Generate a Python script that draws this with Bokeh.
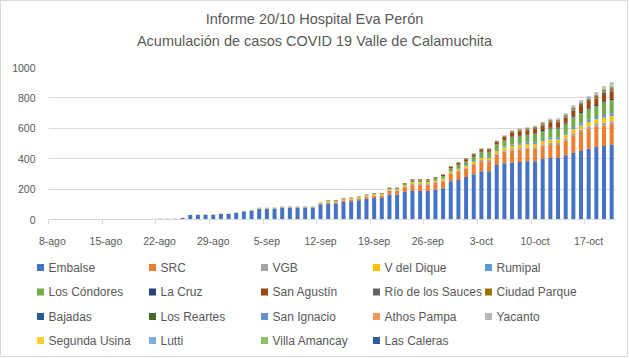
import pandas as pd
from bokeh.plotting import figure
from bokeh.layouts import column
from bokeh.models import Range1d, FixedTicker, ColumnDataSource
from bokeh.core.properties import value
from bokeh.embed import file_html
from bokeh.resources import INLINE

# ---------------- data ----------------
dates = pd.date_range("2020-08-08", "2020-10-20", freq="D")   # 74 days
tick_days = [0, 7, 14, 21, 28, 35, 42, 49, 56, 63, 70]
tick_labels = ["8-ago", "15-ago", "22-ago", "29-ago", "5-sep", "12-sep",
               "19-sep", "26-sep", "3-oct", "10-oct", "17-oct"]
y_ticks = [0, 200, 400, 600, 800, 1000]
title_lines = ["Informe 20/10 Hospital Eva Perón",
               "Acumulación de casos COVID 19 Valle de Calamuchita"]

series_names = ["Embalse", "SRC", "VGB", "V del Dique", "Rumipal",
                "Los Cóndores", "La Cruz", "San Agustín", "Río de los Sauces", "Ciudad Parque",
                "Bajadas", "Los Reartes", "San Ignacio", "Athos Pampa", "Yacanto",
                "Segunda Usina", "Lutti", "Villa Amancay", "Las Caleras"]
colors = ["#4472C4", "#ED7D31", "#A5A5A5", "#FFC000", "#5B9BD5",
          "#70AD47", "#264478", "#9E480E", "#636363", "#997300",
          "#255E91", "#43682B", "#698ED0", "#F1975A", "#B7B7B7",
          "#FFCD33", "#7CAFDD", "#8CC168", "#335AA1"]

embalse = [0] * 11 + [4, 4, 4, 5, 5, 5,
           10, 29, 31, 31, 31, 37, 37, 42, 53, 57, 71, 71, 73, 79, 79, 79, 79, 79,
           100, 106, 105, 115, 120, 127, 137, 141, 141, 165, 165, 181, 187, 187, 187,
           198, 206, 251, 260, 279, 298, 318, 318, 358, 370, 374, 379, 383, 383,
           398, 404, 404, 423, 437, 450, 465, 477, 483, 491]
src = [0] * 35 + [3, 6, 8, 9, 10, 10, 12, 15, 15, 22, 22, 33, 42, 42, 42, 44, 46, 50,
                  53, 57, 60, 66, 66, 70, 77, 80, 80, 80, 80, 84, 86, 86, 96, 117,
                  125, 132, 136, 136, 137]
vgb = [0] * 22 + [1, 1, 1, 1, 1, 1, 1, 1, 1, 1, 1, 1, 1, 1,
                  2, 2, 2, 2, 2, 2, 2, 2, 3, 3, 3, 4, 4, 4, 4,
                  5, 5, 6, 6, 7, 7, 7, 8, 9, 10, 11, 11, 12, 12, 13, 13, 14, 14,
                  15, 15, 16, 18, 18]
v_dique = [0] * 17 + [1, 2, 2, 2, 2, 2, 2, 2, 2, 2, 3, 3, 3, 3, 3, 3, 3, 3, 4,
                      5, 5, 5, 5, 5, 6, 6, 6, 7, 7, 7, 8, 8, 8, 8,
                      9, 9, 11, 12, 13, 14, 14, 15, 17, 20, 21, 21, 22, 23, 24, 24,
                      25, 27, 28, 29, 30, 34, 35]
rumipal = [0] * 26 + [1, 1, 1, 1, 1, 1, 1, 1, 1, 1, 1, 1, 1, 1, 1, 1,
                      2, 2, 2, 2, 2, 3, 3, 3, 3,
                      3, 4, 5, 5, 6, 6, 6, 7, 8, 10, 11, 11, 12, 12, 13, 13, 13,
                      14, 15, 15, 16, 17, 18]
condores = [0] * 24 + [1, 1, 1, 1, 1, 1, 1, 1, 1, 1, 1, 1,
                       2, 2, 2, 2, 2, 2, 3, 3, 6, 6, 7, 11, 11, 12, 12,
                       15, 17, 23, 24, 28, 31, 31, 33, 38, 46, 48, 49, 52, 54, 58,
                       59, 59, 63, 67, 69, 70, 81, 85]
la_cruz = [0] * 47 + [1, 1, 1, 1,
                      1, 1, 2, 2, 2, 3, 3, 3, 4, 5, 5, 5, 5, 5, 6, 6, 6, 7, 7, 7,
                      8, 9, 9]
san_agustin = [0] * 36 + [2, 3, 3, 3, 3, 3, 3, 3, 3, 3, 4, 6, 6, 6, 6,
                          8, 9, 11, 12, 14, 15, 15, 16, 19, 24, 26, 27, 29, 31,
                          33, 34, 35, 38, 40, 41, 43, 48, 49]
rio_sauces = [0] * 44 + [1, 1, 1, 2, 2, 2, 2,
                         2, 2, 3, 3, 3, 3, 3, 3, 4, 5, 5, 6, 6, 6, 6, 6, 6,
                         7, 7, 7, 8, 9, 9]
ciudad_parque = [0] * 30 + [1, 1, 1, 1, 1,
                            2, 2, 2, 2, 2, 2, 2, 2, 2, 2, 2, 2, 2, 2, 2, 2,
                            2, 2, 3, 3, 3, 4, 4, 4, 4, 5, 5, 5, 6, 6, 6, 6,
                            7, 7, 7, 8, 8, 9, 9]
bajadas = [0] * 59 + [1, 1, 1, 1, 2, 2, 2, 2, 2, 3, 3, 3, 3, 4, 4]
los_reartes = [0] * 60 + [1, 1, 1, 1, 2, 2, 2, 2, 3, 3, 3, 3, 4, 4]
san_ignacio = [0] * 60 + [1, 1, 1, 1, 1, 2, 2, 2, 2, 3, 3, 3, 4, 4]
athos_pampa = [0] * 63 + [1, 1, 1, 1, 1, 2, 2, 2, 3, 4, 4]
yacanto = [0] * 55 + [2, 2, 2, 3, 4, 5, 5, 5, 5, 6, 6, 7, 7, 8, 9, 9, 9, 10, 11]
segunda_usina = [0] * 60 + [1, 1, 1, 1, 1, 1, 1, 1, 2, 2, 2, 2, 3, 4]
lutti = [0] * 61 + [1, 1, 1, 1, 1, 1, 1, 2, 2, 2, 2, 3, 4]
villa_amancay = [0] * 69 + [1, 1, 1, 2, 2]
las_caleras = [0] * 71 + [1, 1, 2]

series_values = [embalse, src, vgb, v_dique, rumipal, condores, la_cruz, san_agustin,
                 rio_sauces, ciudad_parque, bajadas, los_reartes, san_ignacio,
                 athos_pampa, yacanto, segunda_usina, lutti, villa_amancay, las_caleras]

# ---------------- build ----------------
n = len(dates)
data = {"x": list(range(n))}
keys = []
for i, vals in enumerate(series_values):
    if len(vals) != n:
        raise ValueError(f"{series_names[i]} has {len(vals)} values, expected {n}")
    data[f"s{i}"] = vals
    keys.append(f"s{i}")
source = ColumnDataSource(data)

FONT = "Liberation Sans"
GRAY = "#595959"
LIGHT = "#D9D9D9"
W = 626          # inner width (page x 1..627)


def no_align(f):
    if "frame_align" in f.properties():
        f.frame_align = False
    return f


def blank(height, y_top, y_bottom):
    f = figure(width=W, height=height, output_backend="svg", toolbar_location=None,
               x_range=Range1d(1, 1 + W), y_range=Range1d(y_bottom, y_top),
               x_axis_type=None, y_axis_type=None, min_border=0,
               background_fill_color="white", border_fill_color="white")
    f.outline_line_color = None
    return no_align(f)


# ---- header with the two title lines (coordinates = page pixels) ----
header = blank(54, 1, 55)
header.text(x=[314, 314], y=[18, 40], text=title_lines,
            text_align="center", text_baseline="middle",
            text_font=value(FONT), text_font_size="14.5px", text_color=GRAY)

# ---- chart ----
p = figure(width=W, height=195, output_backend="svg", toolbar_location=None,
           x_range=Range1d(-0.5, n - 0.5), y_range=Range1d(0, 1000),
           min_border_left=47, min_border_right=12, min_border_top=12, min_border_bottom=31,
           background_fill_color="white", border_fill_color="white")
p.outline_line_color = None
no_align(p)

renderers = p.vbar_stack(keys, x="x", width=0.52, source=source,
                         fill_color=colors, line_color=None)

xa = p.xaxis[0]
xa.ticker = FixedTicker(ticks=tick_days, minor_ticks=[d - 0.5 for d in tick_days])
xa.major_label_overrides = {d: lab for d, lab in zip(tick_days, tick_labels)}
xa.major_tick_line_color = None
xa.major_tick_out = 0
xa.major_tick_in = 0
xa.minor_tick_line_color = LIGHT
xa.minor_tick_out = 5
xa.minor_tick_in = 0
xa.axis_line_color = LIGHT
xa.major_label_standoff = 10
xa.major_label_text_font = FONT
xa.major_label_text_font_size = "10.5px"
xa.major_label_text_color = GRAY

ya = p.yaxis[0]
ya.ticker = FixedTicker(ticks=y_ticks)
ya.axis_line_color = None
ya.major_tick_line_color = None
ya.minor_tick_line_color = None
ya.major_tick_out = 0
ya.major_tick_in = 0
ya.major_label_standoff = 13
ya.major_label_text_font = FONT
ya.major_label_text_font_size = "10.5px"
ya.major_label_text_color = GRAY

p.xgrid.grid_line_color = None
p.ygrid.grid_line_color = LIGHT

# ---- legend (5 columns x 4 rows, coordinates = page pixels) ----
leg = blank(106, 250, 356)
col_idx = [i % 5 for i in range(len(series_names))]
row_idx = [i // 5 for i in range(len(series_names))]
row_y = [267, 291.5, 316, 340]
mk_x = [40 + 112 * c for c in col_idx]
lb_x = [48 + 112 * c for c in col_idx]
mk_y = [row_y[r] for r in row_idx]
leg.scatter(mk_x, mk_y, marker="square", size=7, fill_color=colors, line_color=None)
leg.text(lb_x, mk_y, text=series_names, text_align="left", text_baseline="middle",
         text_font=value(FONT), text_font_size="12px", text_color=GRAY)

layout = column(header, p, leg, spacing=0,
                styles={"border": "1px solid #D9D9D9"})

open("out.html", "w").write(file_html(layout, INLINE))
